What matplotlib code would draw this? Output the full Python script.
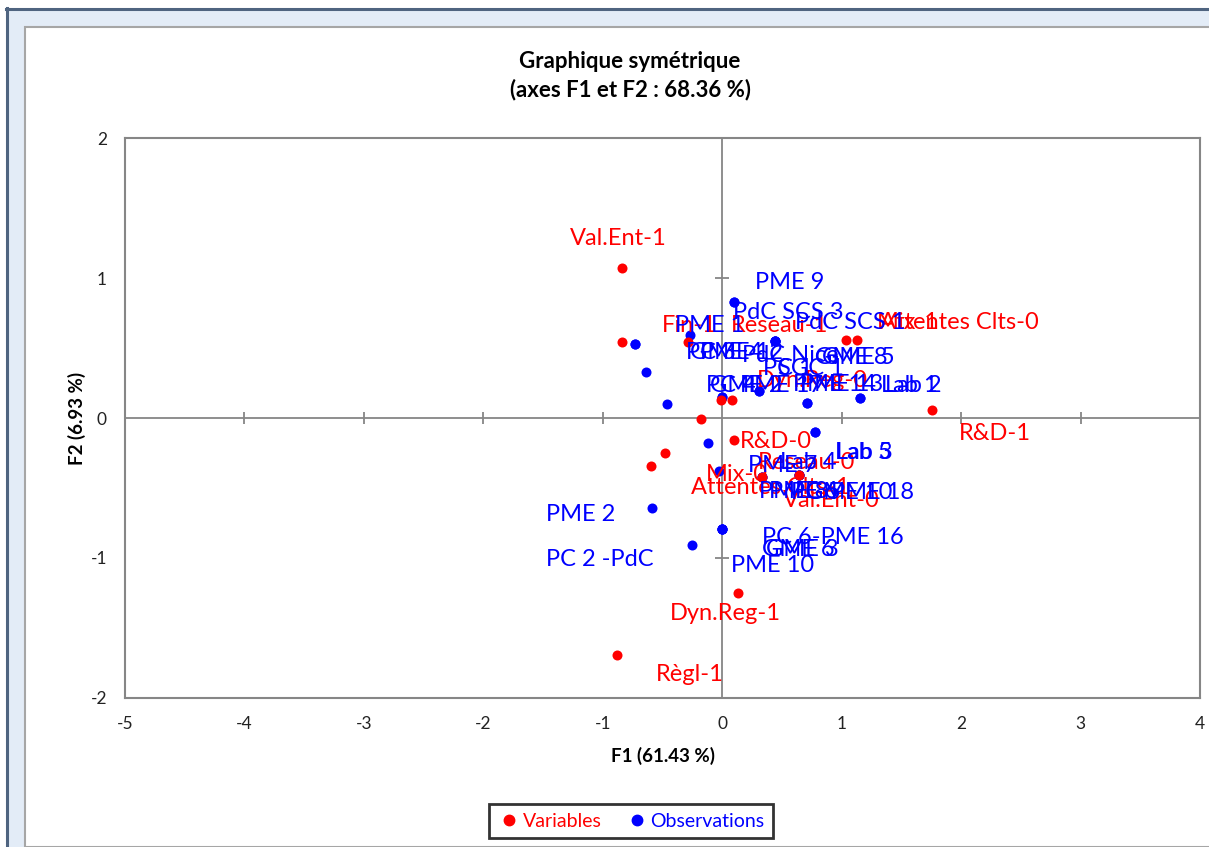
import matplotlib
matplotlib.use("Agg")
import matplotlib.pyplot as plt
from matplotlib.lines import Line2D
from matplotlib.patches import Rectangle

plt.rcParams["font.family"] = ["Lato", "DejaVu Sans"]
plt.rcParams["axes.unicode_minus"] = False

W, H = 1209, 847

# --- data (F1, F2) ---
var_names = ["Val.Ent-1", "Fin-1", "Reseau-1", "Mix-1", "Attentes Clts-0", "Dyn.Reg-0",
             "Fin-0", "R&D-1", "Règl-0", "Val.Ent-0", "Attentes Clts-1", "R&D-0",
             "Mix-0", "Reseau-0", "Dyn.Reg-1", "Règl-1"]
var_f1 = [-0.84, -0.84, -0.29, 1.04, 1.13, -0.01, 0.08, 1.76, -0.18, -0.48, -0.60, 0.10,
          0.33, 0.64, 0.13, -0.88]
var_f2 = [1.07, 0.54, 0.54, 0.56, 0.56, 0.13, 0.13, 0.06, -0.01, -0.25, -0.34, -0.16,
          -0.42, -0.41, -1.25, -1.69]

obs_names = ["PME 9", "PdC SCS 3", "PME 1", "PdC SCS 1", "PC 3", "GME 4", "PME 12",
             "PdC Nice", "GME 8", "GME 5", "PC 1", "SGC 1", "PC 4", "GME 2", "PME 17",
             "PME 14", "PME 13", "Lab 1", "Lab 2", "Lab 5", "Lab 3", "Lab 4", "PME 7",
             "PME 8", "PME 6", "PC 5", "GME 10", "PME 18", "PME 2", "PC 6-PME 16",
             "GME 6", "GME 3", "PME 10", "PC 2 -PdC"]
obs_f1 = [0.10, 0.10, -0.27, 0.44, -0.73, -0.73, -0.64, 0.44, 0.44, 0.44, 0.31, 0.31,
          -0.46, 0.00, 0.00, 0.71, 0.71, 1.15, 1.15, 0.78, 0.78, -0.12, -0.03, 0.33,
          0.33, 0.64, 0.64, 0.64, -0.59, 0.00, 0.00, 0.00, 0.00, -0.25]
obs_f2 = [0.83, 0.83, 0.59, 0.55, 0.53, 0.53, 0.33, 0.55, 0.55, 0.55, 0.19, 0.19,
          0.10, 0.15, 0.15, 0.11, 0.11, 0.14, 0.14, -0.10, -0.10, -0.18, -0.38, -0.42,
          -0.42, -0.41, -0.41, -0.41, -0.64, -0.79, -0.79, -0.79, -0.79, -0.91]

x_ticks = [-5, -4, -3, -2, -1, 0, 1, 2, 3, 4]
y_ticks = [-2, -1, 0, 1, 2]

# label placement (pixel offsets of the text's left/centre from its point, y downward)
var_label_off = {
    "Val.Ent-1": (-52, -30), "Fin-1": (40, -17), "Reseau-1": (43, -17), "Mix-1": (30, -17),
    "Attentes Clts-0": (23, -17), "Dyn.Reg-0": (36, -19), "R&D-1": (26, 24),
    "Val.Ent-0": (118, 47), "Attentes Clts-1": (40, 22), "R&D-0": (6, 1), "Mix-0": (-56, -2),
    "Reseau-0": (-41, -13), "Dyn.Reg-1": (-68, 20), "Règl-1": (39, 20),
}
obs_label_off = {
    "PME 9": (21, -19), "PdC SCS 3": (-1, 11), "PME 1": (-15, -10), "PdC SCS 1": (20, -19),
    "PC 3": (51, 9), "GME 4": (55, 9), "PME 12": (54, -19), "PdC Nice": (-33, 14),
    "GME 8": (40, 16), "GME 5": (47, 16), "PC 1": (4, -23), "SGC 1": (19, -23),
    "PC 4": (39, -19), "GME 2": (-12, -12), "PME 17": (18, -12), "PME 14": (-14, -18),
    "PME 13": (-7, -18), "Lab 1": (21, -13), "Lab 2": (25, -13), "Lab 5": (20, 20),
    "Lab 3": (21, 20), "Lab 4": (72, 19), "PME 7": (29, -6), "PME 8": (-3, 15),
    "PME 6": (7, 15), "PC 5": (-8, 17), "GME 10": (7, 17), "PME 18": (32, 17),
    "PME 2": (-106, 7), "PC 6-PME 16": (40, 9), "GME 6": (40, 21), "GME 3": (44, 21),
    "PME 10": (9, 37), "PC 2 -PdC": (-146, 14),
}

RED, BLUE, GREY = "#ff0000", "#0000ff", "#868686"


def fx(px):
    return px / W


def fy(py):
    return 1 - py / H


fig = plt.figure(figsize=(W / 100, H / 100), dpi=100)
fig.patch.set_facecolor("white")

# window frame of the screenshot (behind the axes)
fig.add_artist(Rectangle((fx(6), 0), 1, fy(8), transform=fig.transFigure,
                         facecolor="#e3ecf7", edgecolor="none", zorder=-3))
fig.add_artist(Rectangle((fx(25), 0), 1, fy(27), transform=fig.transFigure,
                         facecolor="white", edgecolor="#a6a6a6", lw=1.5, zorder=-2))
fig.add_artist(Line2D([fx(7), fx(7)], [0, fy(8)], transform=fig.transFigure,
                      color="#4f6480", lw=2.2, zorder=-1))
fig.add_artist(Line2D([fx(6), 1], [fy(9), fy(9)], transform=fig.transFigure,
                      color="#4f6480", lw=2.2, zorder=-1))

ax = fig.add_axes([fx(125), fy(698), fx(1200) - fx(125), fy(138) - fy(698)])
ax.set_zorder(2)
ax.set_facecolor("white")
ax.set_xlim(-5, 4)
ax.set_ylim(-2, 2)
ax.set_xticks(x_ticks)
ax.set_yticks(y_ticks)
ax.tick_params(length=0, labelsize=12.5, pad=13, colors="#222222")
for s in ax.spines.values():
    s.set_color(GREY)
    s.set_linewidth(1.5)

# crossing axes with their tick marks
ax.axhline(0, color=GREY, lw=1.3, zorder=1)
ax.axvline(0, color=GREY, lw=1.3, zorder=1)
ax.plot([t for t in x_ticks if t not in (-5, 0, 4)], [0] * 7, ls="none", marker="|",
        ms=9, mew=1.3, color=GREY, zorder=1)
ax.plot([0, 0], [t for t in y_ticks if t in (-1, 1)], ls="none", marker="_",
        ms=10, mew=1.3, color=GREY, zorder=1)

ax.scatter(obs_f1, obs_f2, s=52, color=BLUE, zorder=3, linewidths=0, label="Observations")
ax.scatter(var_f1, var_f2, s=52, color=RED, zorder=4, linewidths=0, label="Variables")

for n, x, y in zip(var_names, var_f1, var_f2):
    if n in var_label_off:
        dx, dy = var_label_off[n]
        ax.annotate(n, (x, y), xytext=(dx, -dy), textcoords="offset pixels",
                    ha="left", va="center", fontsize=17, color=RED, zorder=5)
for n, x, y in zip(obs_names, obs_f1, obs_f2):
    dx, dy = obs_label_off[n]
    ax.annotate(n, (x, y), xytext=(dx, -dy), textcoords="offset pixels",
                ha="left", va="center", fontsize=17, color=BLUE, zorder=6)

fig.text(fx(630), fy(62), "Graphique symétrique", ha="center", va="center",
         fontsize=16, fontweight="bold")
fig.text(fx(630), fy(90), "(axes F1 et F2 : 68.36 %)", ha="center", va="center",
         fontsize=16, fontweight="bold")
fig.text(fx(663), fy(756), "F1 (61.43 %)", ha="center", va="center", fontsize=13.5,
         fontweight="bold")
fig.text(fx(77), fy(418), "F2 (6.93 %)", ha="center", va="center", rotation=90,
         fontsize=13.5, fontweight="bold")

handles = [Line2D([], [], ls="none", marker="o", ms=7.5, color=RED),
           Line2D([], [], ls="none", marker="o", ms=7.5, color=BLUE)]
leg = fig.legend(handles, ["Variables", "Observations"], loc="center",
                 bbox_to_anchor=(fx(631), fy(821)), ncol=2, fontsize=14,
                 labelcolor=[RED, BLUE], frameon=True, fancybox=False,
                 handletextpad=0.1, columnspacing=1.2, handlelength=1.2,
                 borderpad=0.45)
leg.get_frame().set_edgecolor("black")
leg.get_frame().set_linewidth(2)

fig.savefig("out.png", dpi=100)
